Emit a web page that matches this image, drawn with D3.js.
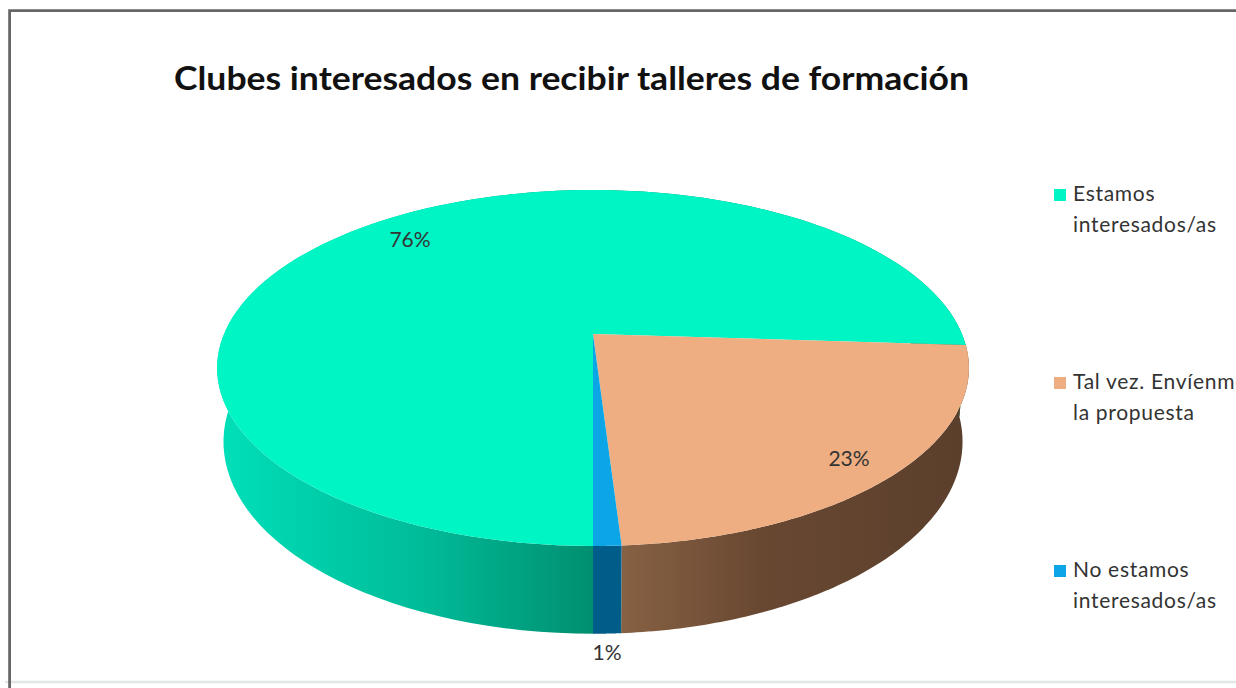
<!DOCTYPE html>
<html>
<head>
<meta charset="utf-8">
<script src="https://cdn.jsdelivr.net/npm/d3@7"></script>
<style>
html, body { margin: 0; padding: 0; background: #fff; overflow: hidden; }
text { font-family: Lato, "Open Sans", sans-serif; fill: #333; }
</style>
</head>
<body>
<div id="graphicContainer"></div>
<script>
var title = "Clubes interesados en recibir talleres de formación";
var categories = ["Estamos interesados/as", "Tal vez. Envíenme la propuesta", "No estamos interesados/as"];
var legendLines = [["Estamos", "interesados/as"], ["Tal vez. Envíenme", "la propuesta"], ["No estamos", "interesados/as"]];
var values = [76, 23, 1];
var labels = ["76%", "23%", "1%"];
var topColors = ["#00f5c4", "#eeae82", "#0ca6e6"];
var sideStops = [
	[["0%", "#00e0ba"], ["55%", "#00bb98"], ["100%", "#008f70"]],
	[["0%", "#876143"], ["40%", "#694832"], ["100%", "#5a3f2c"]],
	[["0%", "#005c88"], ["100%", "#005c88"]]
];

var width = 1236, height = 688;

var svg = d3.select("#graphicContainer").append("svg")
	.attr("width", width)
	.attr("height", height)
	.style("display", "block");

// frame, cut off by the right edge of the screenshot
svg.append("line").attr("x1", 5).attr("x2", width).attr("y1", 682).attr("y2", 682)
	.attr("stroke", "#e3e6e8").attr("stroke-width", 2.5);
svg.append("path").attr("d", d3.line()([[9.6, height], [9.6, 10.7], [width, 10.7]]))
	.attr("fill", "none").attr("stroke", "#666").attr("stroke-width", 2.8);

svg.append("text").attr("x", 174).attr("y", 90)
	.attr("font-size", 32).attr("font-weight", 700)
	.style("fill", "#111")
	.attr("textLength", 795).attr("lengthAdjust", "spacingAndGlyphs")
	.text(title);

// the pie is a circle seen in perspective, so the apex sits above the ellipse centre
var apexX = 593, apexY = 334;
var persp = -0.191, tiltY = 107.7, radiusX = 369;
var depth = 71, bottomScale = 0.983;

function topPoint(angle) {
	var u = Math.sin(angle), v = -Math.cos(angle);
	var w = 1 + persp * v;
	return [apexX + radiusX * u / w, (apexY + tiltY * v) / w];
}
function bottomPoint(angle) {
	var u = Math.sin(angle), v = -Math.cos(angle);
	var w = 1 + persp * v;
	return [apexX + bottomScale * radiusX * u / w, (apexY + depth + tiltY * v) / w];
}
function arcAngles(d) {
	return d3.range(0, 121).map(i => d.startAngle + (d.endAngle - d.startAngle) * i / 120);
}

var slices = d3.pie().sort(null).startAngle(Math.PI).endAngle(3 * Math.PI)(values);
var line = d3.line();

var defs = svg.append("defs");
var walls = svg.append("g");
var tops = svg.append("g");

slices.forEach((d, i) => {
	var angles = arcAngles(d);
	var grad = defs.append("linearGradient").attr("id", "side" + i)
		.attr("gradientUnits", "userSpaceOnUse")
		.attr("x1", i == 0 ? 217 : 593 + (i == 1 ? 28 : 0)).attr("x2", i == 0 ? 593 : (i == 1 ? 968 : 621))
		.attr("y1", 0).attr("y2", 0);
	sideStops[i].forEach(s => grad.append("stop").attr("offset", s[0]).attr("stop-color", s[1]));

	walls.append("path")
		.attr("d", line(angles.map(topPoint).concat(angles.slice().reverse().map(bottomPoint))) + "Z")
		.attr("fill", "url(#side" + i + ")");
});

slices.forEach((d, i) => {
	tops.append("path")
		.attr("d", line([[apexX, apexY]].concat(arcAngles(d).map(topPoint))) + "Z")
		.attr("fill", topColors[i]);
});

// data labels
var labelPos = [[410, 247], [849, 466], [607, 660]];
labels.forEach((t, i) => {
	svg.append("text").attr("x", labelPos[i][0]).attr("y", labelPos[i][1])
		.attr("text-anchor", "middle").attr("font-size", 21)
		.text(t);
});

// legend
var legendY = d3.scalePoint().domain(categories).range([195, 571]);
categories.forEach((c, i) => {
	var y = legendY(c);
	svg.append("rect").attr("x", 1054).attr("y", y - 6).attr("width", 12).attr("height", 12)
		.attr("fill", topColors[i]);
	legendLines[i].forEach((t, j) => {
		svg.append("text").attr("x", 1073).attr("y", y + 6 + j * 30.5)
			.attr("font-size", 21).attr("letter-spacing", 0.7).text(t);
	});
});
</script>
</body>
</html>
